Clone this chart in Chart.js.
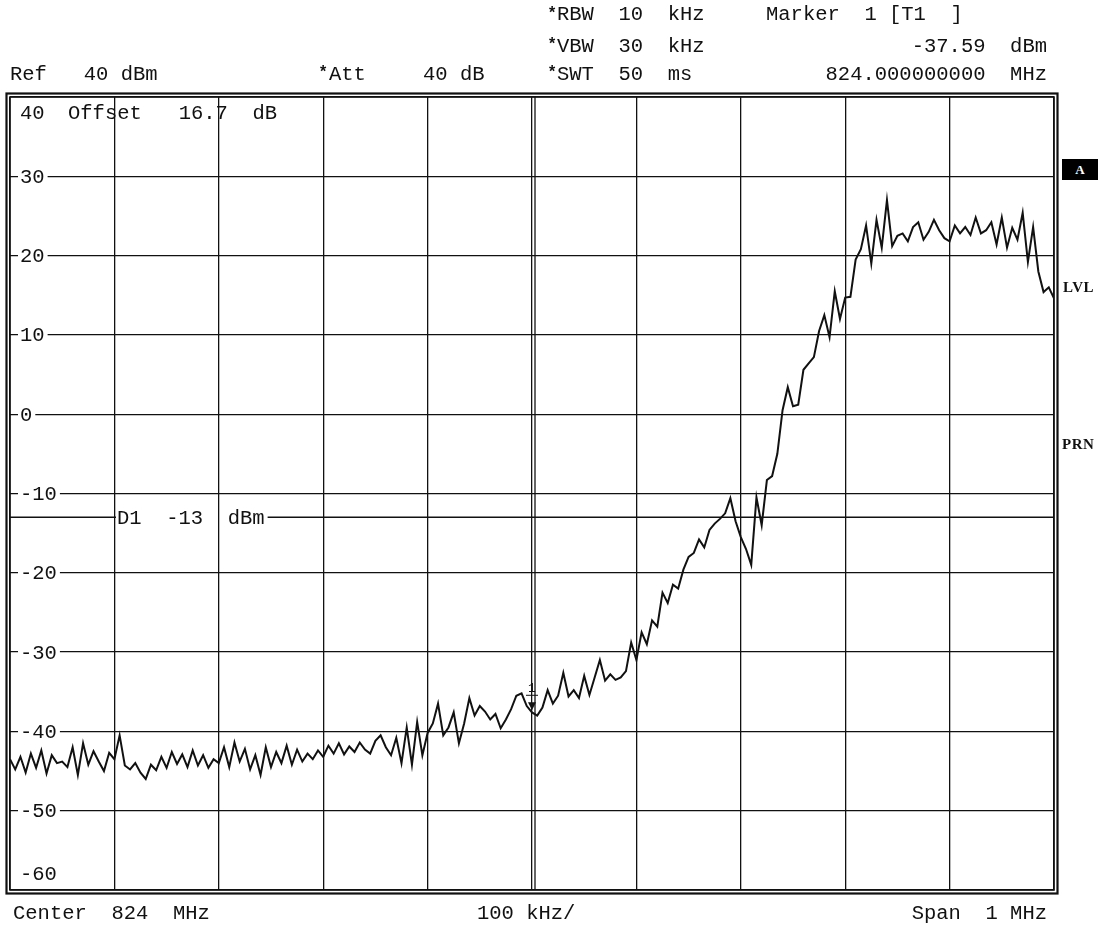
<!DOCTYPE html>
<html>
<head>
<meta charset="utf-8">
<script src="https://cdn.jsdelivr.net/npm/chart.js@4.4.0/dist/chart.umd.min.js"></script>
<style>
  html, body { margin: 0; padding: 0; background: #fff; }
  #wrap { position: relative; width: 1108px; height: 926px; overflow: hidden; }
  #spectrum { position: absolute; left: 0; top: 0; }
  .t { position: absolute; font-family: "Liberation Mono", monospace; font-size: 20.5px;
       line-height: 20px; color: #111; white-space: pre; }
  .star { position: absolute; font-family: "Liberation Sans", sans-serif; font-weight: bold;
          font-size: 16px; line-height: 15px; color: #111; }
  .side { position: absolute; font-family: "Liberation Serif", serif; font-weight: bold;
          font-size: 15px; line-height: 16px; color: #111; letter-spacing: 0.5px; }
  #boxA { position: absolute; left: 1062px; top: 159px; width: 36px; height: 21px; background: #000;
          color: #fff; font-family: "Liberation Serif", serif; font-weight: bold; font-size: 13px;
          line-height: 21px; text-align: center; }
</style>
</head>
<body>
<div id="wrap">
  <canvas id="spectrum" width="1108" height="926"></canvas>

  <span class="star" style="left:549px;top:5px">*</span>
  <div class="t" style="left:557px;top:5px">RBW  10  kHz</div>
  <div class="t" style="left:766px;top:5px">Marker  1 [T1  ]</div>

  <span class="star" style="left:549px;top:36px">*</span>
  <div class="t" style="left:557px;top:37px">VBW  30  kHz</div>
  <div class="t" style="right:61px;top:37px">-37.59  dBm</div>

  <div class="t" style="left:10px;top:65px">Ref   40 dBm</div>
  <span class="star" style="left:320px;top:64px">*</span>
  <div class="t" style="left:329px;top:65px">Att</div>
  <div class="t" style="left:423px;top:65px">40 dB</div>
  <span class="star" style="left:549px;top:64px">*</span>
  <div class="t" style="left:557px;top:65px">SWT  50  ms</div>
  <div class="t" style="right:61px;top:65px">824.000000000  MHz</div>

  <div class="t" style="left:13px;top:904px">Center  824  MHz</div>
  <div class="t" style="left:477px;top:904px">100 kHz/</div>
  <div class="t" style="right:61px;top:904px">Span  1 MHz</div>

  <div id="boxA">A</div>
  <div class="side" style="left:1063px;top:279px">LVL</div>
  <div class="side" style="left:1062px;top:436px">PRN</div>
</div>

<script>
// Sweep: 823.5 .. 824.5 MHz, one reading every 5 kHz
const freqStartMHz = 823.5;
const freqStepMHz = 0.005;

// Trace level (dBm)
const levelDbm = [
  -43.5, -44.8, -43.2, -45.2, -42.8, -44.6, -42.4, -45.3, -43.0, -44.0,
  -43.8, -44.5, -42.0, -45.5, -41.5, -44.2, -42.5, -43.8, -45.0, -42.7,
  -43.5, -40.5, -44.3, -44.8, -44.0, -45.2, -46.0, -44.2, -44.9, -43.2,
  -44.6, -42.6, -44.1, -42.9, -44.5, -42.4, -44.3, -43.0, -44.6, -43.5,
  -44.0, -42.0, -44.5, -41.4, -43.8, -42.2, -44.8, -43.0, -45.5, -42.0,
  -44.5, -42.6, -44.0, -41.8, -44.2, -42.3, -43.8, -42.8, -43.5, -42.4,
  -43.2, -41.8, -42.8, -41.5, -42.9, -41.9, -42.6, -41.4, -42.3, -42.8,
  -41.2, -40.5, -42.0, -43.0, -40.8, -44.0, -39.5, -44.2, -38.8, -43.0,
  -40.2, -39.0, -36.5, -40.5, -39.5, -37.6, -41.5, -39.0, -35.8, -38.0,
  -36.8, -37.5, -38.5, -37.8, -39.6, -38.5, -37.2, -35.5, -35.2, -36.8,
  -37.6, -38.0, -37.0, -34.8, -36.5, -35.5, -32.6, -35.6, -34.8, -35.8,
  -33.0, -35.4, -33.2, -31.0, -33.6, -32.8, -33.5, -33.2, -32.4, -28.8,
  -31.0, -27.5, -29.0, -26.0, -26.8, -22.5, -23.8, -21.5, -22.0, -19.6,
  -18.0, -17.5, -15.8, -16.8, -14.6, -13.8, -13.2, -12.5, -10.6, -13.5,
  -15.5, -17.0, -19.0, -10.5, -14.0, -8.3, -7.8, -5.0, 0.5, 3.4,
  1.0, 1.2, 5.6, 6.4, 7.2, 10.5, 12.5, 9.7, 15.5, 12.0,
  14.7, 14.8, 19.5, 20.8, 23.8, 19.0, 24.5, 21.0, 27.0, 21.2,
  22.5, 22.8, 21.8, 23.6, 24.2, 22.0, 23.0, 24.5, 23.2, 22.2,
  21.8, 23.8, 22.8, 23.6, 22.6, 24.8, 22.8, 23.2, 24.2, 21.4,
  24.8, 21.0, 23.5, 22.0, 25.4, 19.2, 23.6, 18.0, 15.4, 16.0,
  14.6
];

// Y grid labels
const yTickValues = [40, 30, 20, 10, 0, -10, -20, -30, -40, -50, -60];
const yTickLabels = ["40", "30", "20", "10", "0", "-10", "-20", "-30", "-40", "-50", "-60"];

// Marker 1 and display line D1
const markerFreqMHz = 824.0;
const markerLevelDbm = -37.59;
const displayLineDbm = -13;
const displayLineLabel = "D1  -13  dBm";
const offsetLabel = "Offset   16.7  dB";

const tracePoints = levelDbm.map((v, i) => ({ x: freqStartMHz + i * freqStepMHz, y: v }));

const monoFont = '20.5px "Liberation Mono", monospace';

// Draws frame, y labels, offset text, D1 line and marker
const analyzerOverlay = {
  id: "analyzerOverlay",
  beforeDatasetsDraw(chart) {
    const { ctx, chartArea, scales } = chart;
    const y = scales.y;
    const x = scales.x;
    ctx.save();

    // double centre line
    const cx = x.getPixelForValue(824.0);
    ctx.strokeStyle = "#111";
    ctx.lineWidth = 1.3;
    ctx.beginPath();
    ctx.moveTo(cx + 3, chartArea.top);
    ctx.lineTo(cx + 3, chartArea.bottom);
    ctx.stroke();

    // display line D1 with a gap for its label
    ctx.font = monoFont;
    const dy = y.getPixelForValue(displayLineDbm);
    const labelX = chartArea.left + 106;
    const labelW = ctx.measureText(displayLineLabel).width;
    ctx.lineWidth = 1.5;
    ctx.beginPath();
    ctx.moveTo(chartArea.left, dy);
    ctx.lineTo(labelX, dy);
    ctx.moveTo(labelX + labelW + 4, dy);
    ctx.lineTo(chartArea.right, dy);
    ctx.stroke();
    ctx.fillStyle = "#111";
    ctx.textBaseline = "middle";
    ctx.fillText(displayLineLabel, labelX + 1, dy + 1);

    // y labels inside the plot
    yTickValues.forEach((v, i) => {
      let py = y.getPixelForValue(v);
      if (v === 40) py += 16;
      if (v === -60) py -= 16;
      const w = ctx.measureText(yTickLabels[i]).width;
      const lx = chartArea.left + 10;
      if (v !== 40 && v !== -60) {
        ctx.fillStyle = "#fff";
        ctx.fillRect(lx - 2, py - 8, w + 5, 16);
      }
      ctx.fillStyle = "#111";
      ctx.fillText(yTickLabels[i], lx, py + 1);
    });

    // offset note on the top row
    ctx.fillText(offsetLabel, chartArea.left + 58, y.getPixelForValue(40) + 17);
    ctx.restore();
  },
  afterDatasetsDraw(chart) {
    const { ctx, chartArea, scales } = chart;
    ctx.save();
    ctx.strokeStyle = "#111";
    ctx.lineWidth = 1.6;
    // inner and outer frame
    ctx.strokeRect(chartArea.left, chartArea.top, chartArea.right - chartArea.left, chartArea.bottom - chartArea.top);
    ctx.lineWidth = 2.2;
    ctx.strokeRect(chartArea.left - 3.5, chartArea.top - 3.5,
      chartArea.right - chartArea.left + 7, chartArea.bottom - chartArea.top + 7);

    // marker 1
    const mx = scales.x.getPixelForValue(markerFreqMHz);
    const my = scales.y.getPixelForValue(markerLevelDbm);
    ctx.fillStyle = "#111";
    ctx.beginPath();
    ctx.moveTo(mx - 4, my - 10);
    ctx.lineTo(mx + 4, my - 10);
    ctx.lineTo(mx, my - 2);
    ctx.closePath();
    ctx.fill();
    ctx.font = '13px "Liberation Mono", monospace';
    ctx.textAlign = "center";
    ctx.textBaseline = "middle";
    ctx.fillText("1", mx, my - 24);
    ctx.beginPath();
    ctx.moveTo(mx - 6, my - 17);
    ctx.lineTo(mx + 6, my - 17);
    ctx.lineWidth = 1;
    ctx.stroke();
    ctx.restore();
  }
};

const spectrumChart = new Chart(document.getElementById("spectrum").getContext("2d"), {
  type: "line",
  data: {
    datasets: [
      {
        data: tracePoints,
        borderColor: "#111",
        borderWidth: 2,
        pointRadius: 0,
        tension: 0,
        fill: false,
      },
    ],
  },
  options: {
    responsive: false,
    animation: false,
    events: [],
    layout: { padding: { left: 10, right: 54, top: 97, bottom: 36 } },
    plugins: {
      legend: { display: false },
      tooltip: { enabled: false },
    },
    scales: {
      x: {
        type: "linear",
        min: 823.5,
        max: 824.5,
        ticks: { display: false, stepSize: 0.1 },
        grid: { color: "#111", lineWidth: 1.3, drawTicks: false },
        border: { display: false },
      },
      y: {
        type: "linear",
        min: -60,
        max: 40,
        ticks: { display: false, stepSize: 10 },
        grid: { color: "#111", lineWidth: 1.3, drawTicks: false },
        border: { display: false },
      },
    },
  },
  plugins: [analyzerOverlay],
});
</script>
</body>
</html>
